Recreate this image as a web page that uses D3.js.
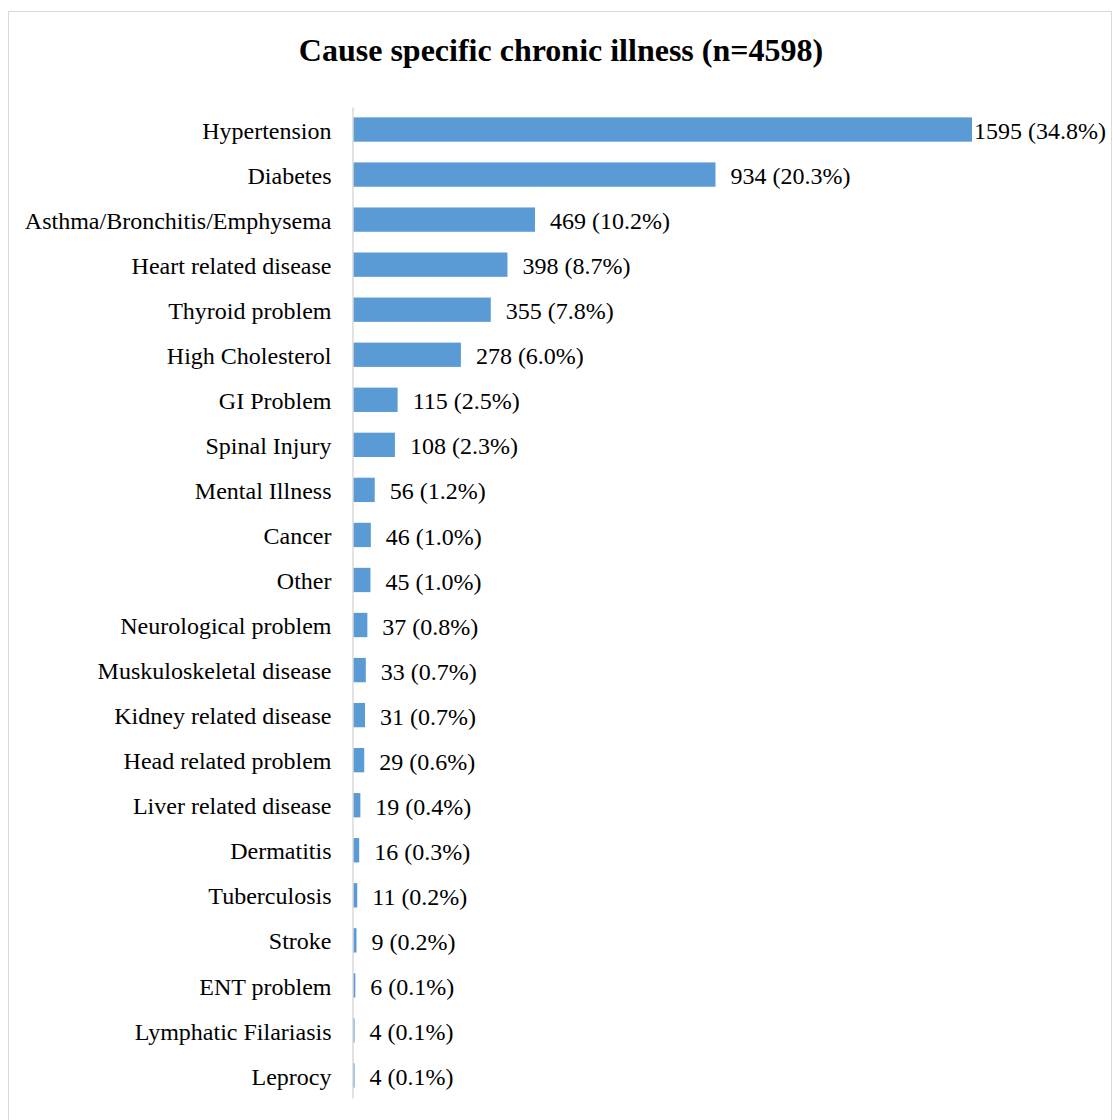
<!DOCTYPE html>
<html>
<head>
<meta charset="utf-8">
<script src="https://cdn.jsdelivr.net/npm/d3@7"></script>
<style>
  body { margin: 0; background: #fff; }
  text { font-family: "Liberation Serif", "Times New Roman", serif; }
</style>
</head>
<body>
<div id="chart"></div>
<script>
// data
var categories = ["Hypertension", "Diabetes", "Asthma/Bronchitis/Emphysema", "Heart related disease",
  "Thyroid problem", "High Cholesterol", "GI Problem", "Spinal Injury", "Mental Illness", "Cancer",
  "Other", "Neurological problem", "Muskuloskeletal disease", "Kidney related disease",
  "Head related problem", "Liver related disease", "Dermatitis", "Tuberculosis", "Stroke",
  "ENT problem", "Lymphatic Filariasis", "Leprocy"];
var counts = [1595, 934, 469, 398, 355, 278, 115, 108, 56, 46, 45, 37, 33, 31, 29, 19, 16, 11, 9, 6, 4, 4];
var percents = ["34.8", "20.3", "10.2", "8.7", "7.8", "6.0", "2.5", "2.3", "1.2", "1.0", "1.0", "0.8",
  "0.7", "0.7", "0.6", "0.4", "0.3", "0.2", "0.2", "0.1", "0.1", "0.1"];
var title = "Cause specific chronic illness (n=4598)";

var width = 1113, height = 1120;
var barcolor = "#5b9bd5";

var svg = d3.select("#chart").append("svg")
  .attr("width", width)
  .attr("height", height);

// chart frame
svg.append("rect")
  .attr("x", 8.5).attr("y", 11.5)
  .attr("width", 1103).attr("height", 1120)
  .attr("fill", "#fff")
  .attr("stroke", "#d9d9d9")
  .attr("stroke-width", 1);

svg.append("text")
  .attr("x", 561).attr("y", 61)
  .attr("text-anchor", "middle")
  .style("font-size", "32px")
  .style("font-weight", "bold")
  .attr("fill", "#000")
  .text(title);

var x = d3.scaleLinear().domain([0, 1595]).range([353, 972]);
var y = d3.scaleBand().domain(categories).range([107, 1098])
  .paddingInner(0.46).paddingOuter(0.23);

var rows = categories.map(function(c, i) { return {name: c, n: counts[i], pct: percents[i]}; });

svg.selectAll("rect.bar").data(rows).enter().append("rect")
  .attr("class", "bar")
  .attr("x", x(0))
  .attr("y", function(d) { return y(d.name); })
  .attr("width", function(d) { return x(d.n) - x(0); })
  .attr("height", y.bandwidth())
  .attr("fill", barcolor);

// axis line (no ticks)
var yAxis = svg.append("g")
  .attr("transform", "translate(" + (x(0) - 0.5) + ",0)")
  .call(d3.axisLeft(y).tickSize(0).tickPadding(21));
yAxis.select(".domain").attr("stroke", "#d9d9d9").attr("stroke-width", 1.5);
yAxis.selectAll(".tick text")
  .style("font-size", "24px")
  .attr("dy", "0.38em")
  .attr("fill", "#000")
  .style("font-family", "'Liberation Serif', 'Times New Roman', serif");

// value labels
svg.selectAll("text.val").data(rows).enter().append("text")
  .attr("class", "val")
  .attr("y", function(d) { return y(d.name) + y.bandwidth() / 2; })
  .attr("dy", "0.4em")
  .style("font-size", "24px")
  .attr("fill", "#000")
  .text(function(d) { return d.n + " (" + d.pct + "%)"; })
  .attr("x", function(d) {
    var w = this.getComputedTextLength();
    return Math.min(x(d.n) + 15, 1106 - w);
  });
</script>
</body>
</html>
